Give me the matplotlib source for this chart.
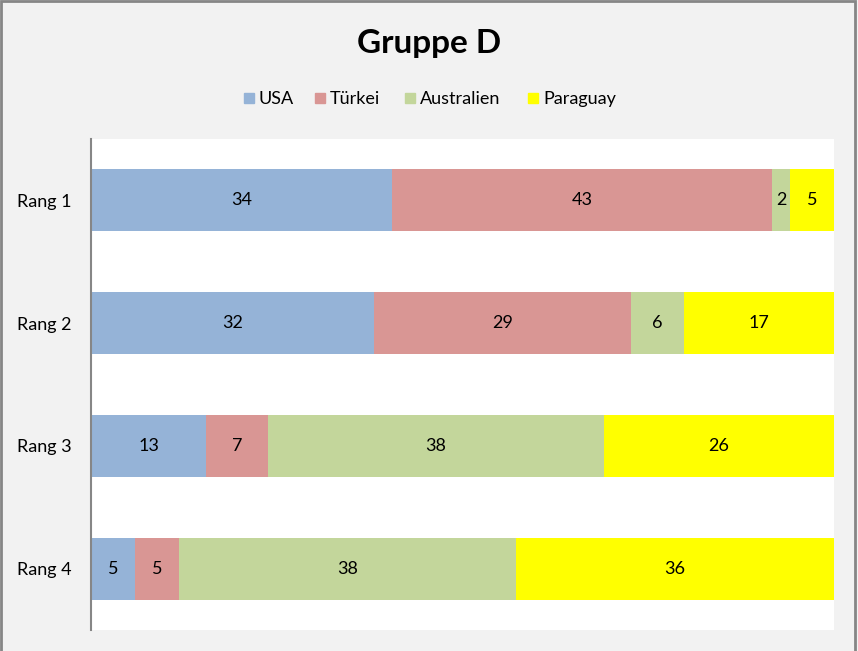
import numpy as np
import matplotlib.pyplot as plt
from matplotlib.patches import Rectangle

plt.rcParams['font.family'] = ['Lato', 'DejaVu Sans']

ranks = ['Rang 1', 'Rang 2', 'Rang 3', 'Rang 4']
teams = ['USA', 'Türkei', 'Australien', 'Paraguay']
usa = [34, 32, 13, 5]
tuerkei = [43, 29, 7, 5]
australien = [2, 6, 38, 38]
paraguay = [5, 17, 26, 36]
colors = ['#95b3d7', '#d99694', '#c3d69b', '#ffff00']

series = [usa, tuerkei, australien, paraguay]

W, H = 858, 651
fig = plt.figure(figsize=(W / 100, H / 100), dpi=100, facecolor='#f2f2f2')
ax = fig.add_axes([91 / W, 21 / H, 743 / W, 491 / H])

y = np.arange(len(ranks))
left = np.zeros(len(ranks))
for name, vals, col in zip(teams, series, colors):
    bars = ax.barh(y, vals, left=left, height=0.505, color=col, label=name)
    ax.bar_label(bars, labels=[str(v) for v in vals], label_type='center',
                 fontsize=13, color='black')
    left += np.array(vals)

ax.set_xlim(0, left.max())
ax.set_ylim(len(ranks) - 0.5, -0.5)
ax.set_yticks(y)
ax.set_yticklabels(ranks, fontsize=13)
ax.tick_params(axis='y', length=0, pad=14)
ax.set_xticks([])
for s in ['top', 'right', 'bottom']:
    ax.spines[s].set_visible(False)
ax.spines['left'].set_color('#868686')
ax.spines['left'].set_linewidth(1.5)

fig.text(429 / W, 1 - 43 / H, 'Gruppe D', ha='center', va='center',
         fontsize=24, fontweight='bold')

# legend row drawn by hand so that all labels share one baseline
leg_x = [244, 315, 405, 528]
for name, col, x in zip(teams, colors, leg_x):
    fig.patches.append(Rectangle((x / W, 1 - 103 / H), 10 / W, 10 / H,
                                 transform=fig.transFigure, color=col))
    fig.text((x + 15) / W, 1 - 104 / H, name, ha='left', va='baseline', fontsize=13)

fig.patches.append(Rectangle((0.001, -0.01), 0.996, 1.008, transform=fig.transFigure,
                             fill=False, edgecolor='#868686', linewidth=2))

fig.savefig('out.png', dpi=100, facecolor=fig.get_facecolor())
